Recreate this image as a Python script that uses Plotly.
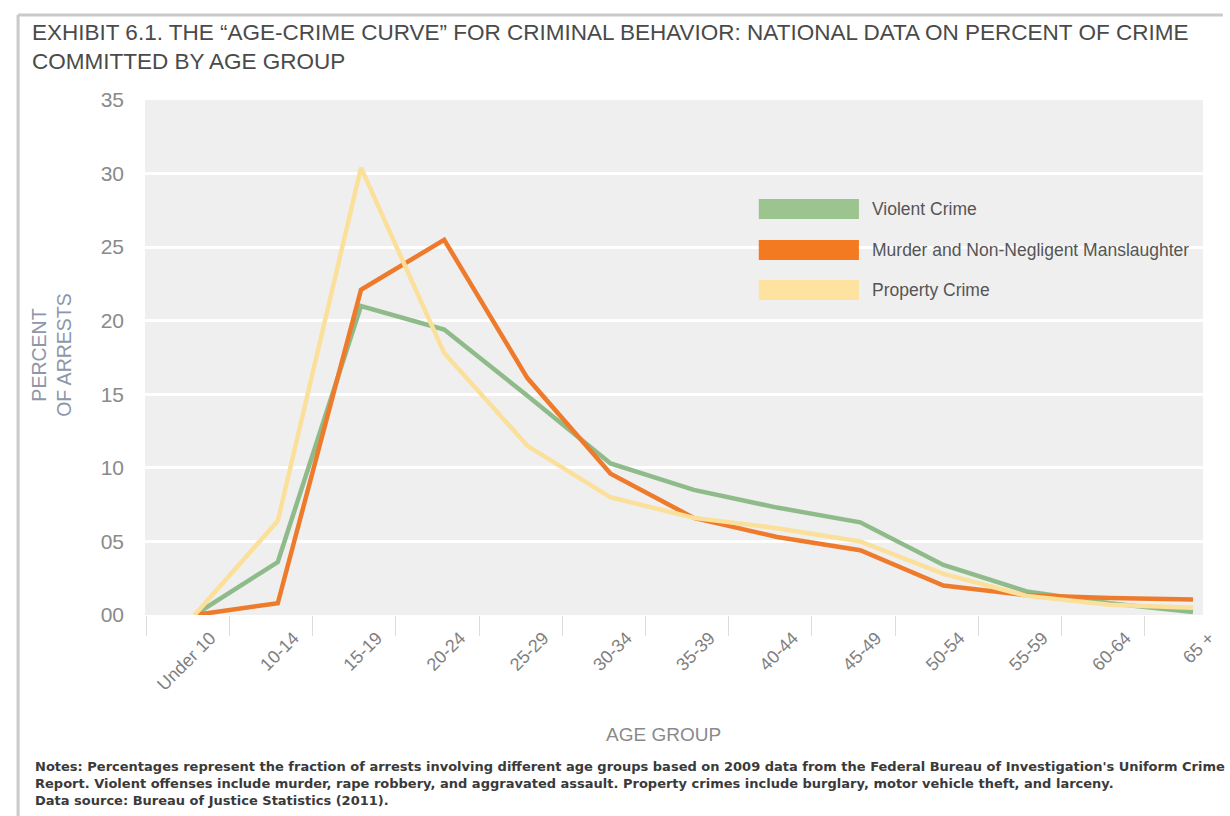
import plotly.graph_objects as go

# Age groups and percent of arrests per group (2009 FBI UCR)
age_groups = ["Under 10", "10-14", "15-19", "20-24", "25-29", "30-34", "35-39",
              "40-44", "45-49", "50-54", "55-59", "60-64", "65 +"]
violent = [0, 3.6, 21.0, 19.4, 14.9, 10.3, 8.5, 7.3, 6.3, 3.4, 1.6, 0.8, 0.2]
murder = [0, 0.8, 22.1, 25.5, 16.1, 9.6, 6.6, 5.3, 4.4, 2.0, 1.35, 1.15, 1.05]
property_crime = [0, 6.4, 30.4, 17.8, 11.5, 8.0, 6.6, 5.9, 5.0, 2.8, 1.3, 0.7, 0.5]

y_ticks = [0, 5, 10, 15, 20, 25, 30, 35]
y_tick_text = ["00", "05", "10", "15", "20", "25", "30", "35"]

series = [
    ("Violent Crime", violent, "#8fbb8a", "#9cc48f"),
    ("Murder and Non-Negligent Manslaughter", murder, "#ee7b2c", "#f47a22"),
    ("Property Crime", property_crime, "#fbe09b", "#fde39f"),
]

FONT = "Liberation Sans, Arial, sans-serif"
NOTE_FONT = "DejaVu Sans, Liberation Sans, sans-serif"

# plot area in pixels (used to place paper-referenced decorations)
W, H = 1230, 816
L, R, T, B = 145, 18, 100, 201
PW, PH = W - L - R, H - T - B


def px_x(px):
    return (px - L) / PW


def px_y(py):
    return (H - B - py) / PH


x_idx = list(range(len(age_groups)))

fig = go.Figure()
for name, vals, color, _ in series:
    fig.add_trace(go.Scatter(
        x=x_idx, y=vals, name=name, mode="lines",
        line=dict(color=color, width=4.5),
        showlegend=False,
        hovertemplate="%{text}: %{y}%<extra>" + name + "</extra>",
        text=age_groups,
    ))

shapes = []
annotations = []

# legend: wide colour swatches with labels
leg_rows = [209, 250, 290]
for (name, _, _, swatch), cy in zip(series, leg_rows):
    shapes.append(dict(type="rect", xref="paper", yref="paper",
                       x0=px_x(764), x1=px_x(865), y0=px_y(cy + 10), y1=px_y(cy - 10),
                       fillcolor=swatch, line=dict(width=0), layer="above"))
    annotations.append(dict(xref="paper", yref="paper", x=px_x(876), y=px_y(cy),
                            xanchor="left", yanchor="middle", showarrow=False,
                            text=name, font=dict(family=FONT, size=17.5, color="#555555")))

# outer frame (top and left rules)
shapes.append(dict(type="line", xref="paper", yref="paper",
                   x0=px_x(17), x1=px_x(1232), y0=px_y(15), y1=px_y(15),
                   line=dict(color="#c9c9c9", width=3)))
shapes.append(dict(type="line", xref="paper", yref="paper",
                   x0=px_x(17), x1=px_x(17), y0=px_y(15), y1=px_y(820),
                   line=dict(color="#c9c9c9", width=3)))

# chart title
annotations.append(dict(xref="paper", yref="paper", x=px_x(29), y=px_y(18),
                        xanchor="left", yanchor="top", align="left", showarrow=False,
                        text="EXHIBIT 6.1. THE \u201cAGE-CRIME CURVE\u201d FOR CRIMINAL BEHAVIOR: NATIONAL DATA ON PERCENT OF CRIME<br>COMMITTED BY AGE GROUP",
                        font=dict(family=FONT, size=22.5, color="#4a4a4a")))

# y-axis title
annotations.append(dict(xref="paper", yref="paper", x=px_x(50), y=px_y(355),
                        xanchor="center", yanchor="middle", showarrow=False, textangle=-90,
                        text="PERCENT<br>OF ARRESTS",
                        font=dict(family=FONT, size=19.5, color="#8d97a8")))

# x-axis title
annotations.append(dict(xref="paper", yref="paper", x=px_x(668), y=px_y(734),
                        xanchor="center", yanchor="middle", showarrow=False,
                        text="AGE GROUP",
                        font=dict(family=FONT, size=19, color="#8a8a8a")))

# notes
notes = ("Notes: Percentages represent the fraction of arrests involving different age groups based on 2009 data from the Federal Bureau of Investigation's Uniform Crime<br>"
         "Report. Violent offenses include murder, rape robbery, and aggravated assault. Property crimes include burglary, motor vehicle theft, and larceny.<br>"
         "Data source: Bureau of Justice Statistics (2011).")
annotations.append(dict(xref="paper", yref="paper", x=px_x(32), y=px_y(757),
                        xanchor="left", yanchor="top", align="left", showarrow=False,
                        text=notes,
                        font=dict(family=NOTE_FONT, size=13, color="#3a3a3a", weight="bold")))

boundaries = [k + 0.42 for k in range(-1, 12)]

fig.update_layout(
    width=W, height=H,
    margin=dict(l=L, r=R, t=T, b=B),
    paper_bgcolor="white",
    plot_bgcolor="#efefef",
    xaxis=dict(
        range=[-0.596, 12.12],
        tickmode="array", tickvals=x_idx, ticktext=age_groups,
        tickangle=-45, ticks="", showgrid=False, zeroline=False,
        showline=False,
        tickfont=dict(family=FONT, size=18, color="#7f7f7f"),
        ticklabelstandoff=8, ticklabelshift=16,
        minor=dict(tickmode="array", tickvals=boundaries, ticks="outside",
                   ticklen=20, tickcolor="#dcdcdc", tickwidth=1, showgrid=False),
        fixedrange=True,
    ),
    yaxis=dict(
        range=[0, 35],
        tickmode="array", tickvals=y_ticks, ticktext=y_tick_text,
        showgrid=True, gridcolor="white", gridwidth=3,
        zeroline=False, showline=False, ticks="",
        tickfont=dict(family=FONT, size=21, color="#8a8a8a"),
        ticklabelstandoff=20,
        fixedrange=True,
    ),
    shapes=shapes,
    annotations=annotations,
)

fig.write_html("out.html")
